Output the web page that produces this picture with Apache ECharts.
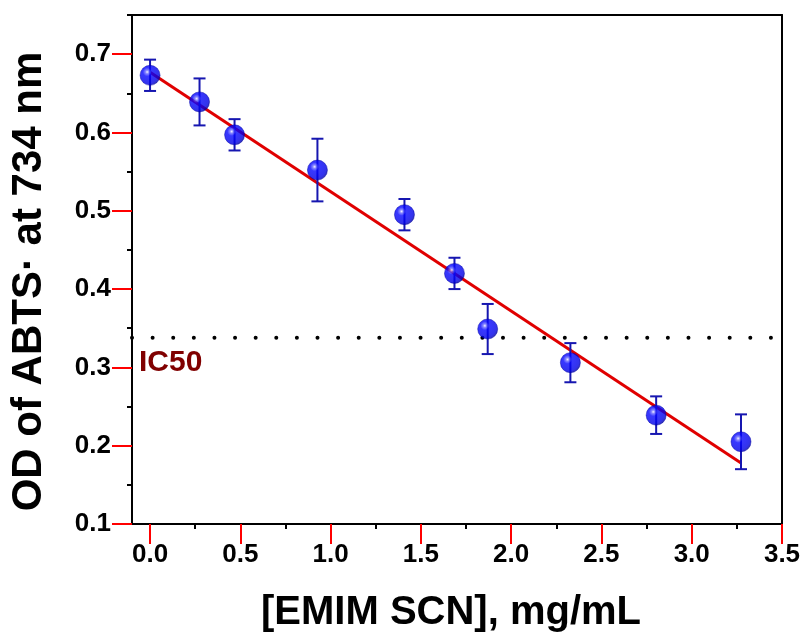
<!DOCTYPE html>
<html>
<head>
<meta charset="utf-8">
<script src="https://cdn.jsdelivr.net/npm/echarts@6/dist/echarts.min.js"></script>
<style>
  html, body { margin: 0; padding: 0; background: #fff; }
  #chart { width: 806px; height: 639px; }
</style>
</head>
<body>
<div id="chart"></div>
<script>
// Ionic liquid concentration (mg/mL) and ABTS radical absorbance at 734 nm
const concentration = [0, 0.274, 0.468, 0.927, 1.409, 1.686, 1.870, 2.328, 2.803, 3.273];
const absorbance    = [0.673, 0.639, 0.597, 0.552, 0.495, 0.420, 0.349, 0.306, 0.239, 0.205];
const stdError      = [0.020, 0.030, 0.020, 0.040, 0.020, 0.020, 0.032, 0.025, 0.024, 0.035];

// Linear fit end points
const fitX = [0, 3.273];
const fitY = [0.677, 0.178];

// Half-inhibition absorbance level
const ic50Level = 0.338;
const ic50Label = 'IC50';

// Axis ticks
const xMajorTicks = [0, 0.5, 1.0, 1.5, 2.0, 2.5, 3.0, 3.5];
const xMinorTicks = [0.25, 0.75, 1.25, 1.75, 2.25, 2.75, 3.25];
const yMajorTicks = [0.1, 0.2, 0.3, 0.4, 0.5, 0.6, 0.7];
const yMinorTicks = [0.15, 0.25, 0.35, 0.45, 0.55, 0.65, 0.75];
const xRange = [-0.1, 3.5];
const yRange = [0.1, 0.75];

const xTitle = '[EMIM SCN], mg/mL';
const yTitle = 'OD of ABTS\u00B7 at 734 nm';

const FONT = '"Liberation Sans", Arial, Helvetica, sans-serif';
const MAJOR_LEN = 20;

const chart = echarts.init(document.getElementById('chart'), null, { renderer: 'canvas' });

const points = concentration.map((x, i) => [x, absorbance[i], stdError[i]]);
const fitLine = fitX.map((x, i) => [x, fitY[i]]);
const ic50Line = [[xRange[0], ic50Level], [xRange[1], ic50Level]];

const tickLabelStyle = {
  fontFamily: FONT, fontWeight: 'bold', fontSize: 26, color: '#000'
};

function labelFor(list) {
  return v => list.some(t => Math.abs(t - v) < 1e-6) ? v.toFixed(1) : '';
}

const sphere = {
  type: 'radial', x: 0.36, y: 0.34, r: 0.7,
  colorStops: [
    { offset: 0, color: '#eeeeff' },
    { offset: 0.12, color: '#6a6aff' },
    { offset: 0.3, color: '#0606ff' },
    { offset: 0.82, color: '#0000e6' },
    { offset: 1, color: '#00009c' }
  ]
};

function tickAxis(values, range, position, len, color) {
  return {
    type: 'value', min: range[0], max: range[1], position: position,
    axisLine: { show: false, onZero: false },
    axisTick: { show: true, inside: false, length: len, lineStyle: { color: color, width: 2 }, customValues: values },
    axisLabel: { show: false },
    splitLine: { show: false }
  };
}

function frameAxis(range, position) {
  return {
    type: 'value', min: range[0], max: range[1], position: position,
    axisLine: { show: true, onZero: false, lineStyle: { color: '#000', width: 2 } },
    axisTick: { show: false },
    axisLabel: { show: false },
    splitLine: { show: false }
  };
}

chart.setOption({
  animation: false,
  grid: { left: 132, right: 24, top: 15, bottom: 115 },
  xAxis: [
    {
      type: 'value', min: xRange[0], max: xRange[1], splitNumber: 7,
      name: xTitle, nameLocation: 'middle', nameGap: 69,
      nameTextStyle: { fontFamily: FONT, fontWeight: 'bold', fontSize: 40, color: '#000', padding: [0, 12, 0, 0] },
      axisLine: { show: true, onZero: false, lineStyle: { color: '#000', width: 2 } },
      axisTick: { show: false },
      axisLabel: { ...tickLabelStyle, margin: 18, formatter: labelFor(xMajorTicks) },
      splitLine: { show: false }
    },
    tickAxis(xMajorTicks, xRange, 'bottom', MAJOR_LEN, '#ff0000'),
    tickAxis(xMinorTicks, xRange, 'bottom', 5, '#000'),
    frameAxis(xRange, 'top')
  ],
  yAxis: [
    {
      type: 'value', min: yRange[0], max: yRange[1], splitNumber: 6,
      name: yTitle, nameLocation: 'middle', nameGap: 82, nameRotate: 90,
      nameTextStyle: { fontFamily: FONT, fontWeight: 'bold', fontSize: 42, color: '#000', padding: [0, 24, 0, 0] },
      axisLine: { show: true, onZero: false, lineStyle: { color: '#000', width: 2 } },
      axisTick: { show: false },
      axisLabel: { ...tickLabelStyle, margin: 21, formatter: labelFor(yMajorTicks) },
      splitLine: { show: false }
    },
    tickAxis(yMajorTicks, yRange, 'left', MAJOR_LEN, '#ff0000'),
    tickAxis(yMinorTicks, yRange, 'left', 5, '#000'),
    frameAxis(yRange, 'right')
  ],
  series: [
    {
      name: 'IC50 level', type: 'line', data: ic50Line, symbol: 'none', z: 1,
      lineStyle: { color: '#000', width: 4, type: [0.01, 20.6], cap: 'round' },
      silent: true
    },
    {
      name: 'Linear fit', type: 'line', data: fitLine, symbol: 'none', z: 2,
      lineStyle: { color: '#e00000', width: 3 },
      silent: true
    },
    {
      name: 'Error', type: 'custom', data: points, z: 3,
      encode: { x: 0, y: 1 },
      renderItem: function (params, api) {
        const x = api.value(0), y = api.value(1), e = api.value(2);
        const hi = api.coord([x, y + e]);
        const lo = api.coord([x, y - e]);
        const half = 6;
        const style = { stroke: '#1616b0', lineWidth: 2 };
        return {
          type: 'group',
          children: [
            { type: 'line', shape: { x1: hi[0], y1: hi[1], x2: lo[0], y2: lo[1] }, style },
            { type: 'line', shape: { x1: hi[0] - half, y1: hi[1], x2: hi[0] + half, y2: hi[1] }, style },
            { type: 'line', shape: { x1: lo[0] - half, y1: lo[1], x2: lo[0] + half, y2: lo[1] }, style }
          ]
        };
      }
    },
    {
      name: 'OD', type: 'scatter', data: points.map(p => [p[0], p[1]]), z: 4,
      symbol: 'circle', symbolSize: 20,
      itemStyle: { color: sphere, borderColor: '#0000a8', borderWidth: 0.6 }
    }
  ]
});

const anchor = chart.convertToPixel({ gridIndex: 0 }, [xRange[0], ic50Level]);
chart.setOption({
  graphic: [{
    type: 'text', x: anchor[0] + 7, y: anchor[1] + 10,
    style: {
      text: ic50Label, fill: '#800000',
      font: 'bold 30px ' + FONT, textVerticalAlign: 'top', textAlign: 'left'
    },
    silent: true
  }]
});
</script>
</body>
</html>
